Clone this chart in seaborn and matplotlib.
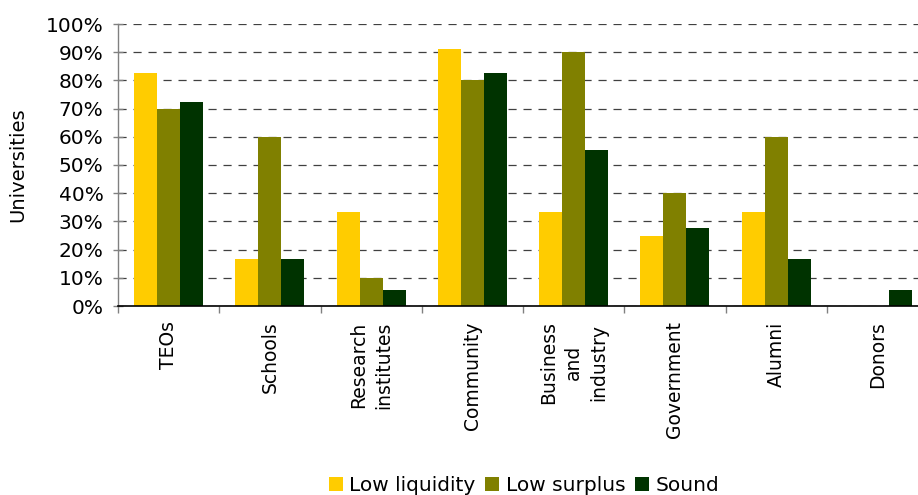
import numpy as np
import pandas as pd
import matplotlib
matplotlib.use("Agg")
import matplotlib.pyplot as plt
from matplotlib.ticker import PercentFormatter, FixedLocator
import seaborn as sns

# Share of universities engaging with each stakeholder group, by financial status
categories = ["TEOs", "Schools", "Research\ninstitutes", "Community",
              "Business\nand\nindustry", "Government", "Alumni", "Donors"]
series = ["Low liquidity", "Low surplus", "Sound"]
low_liquidity = [0.826, 0.167, 0.333, 0.911, 0.333, 0.250, 0.333, 0.0]
low_surplus = [0.70, 0.60, 0.10, 0.80, 0.90, 0.40, 0.60, 0.0]
sound = [0.723, 0.167, 0.056, 0.826, 0.553, 0.277, 0.167, 0.056]
colors = ["#FFCC00", "#808000", "#003300"]
y_ticks = np.arange(0, 1.01, 0.1)

df = pd.DataFrame({
    "category": categories * 3,
    "series": [s for s in series for _ in categories],
    "value": low_liquidity + low_surplus + sound,
})

sns.set_style("white")
plt.rcParams["font.family"] = ["DejaVu Sans"]
plt.rcParams["font.size"] = 13
plt.rcParams["text.color"] = "black"
plt.rcParams["axes.labelcolor"] = "black"
plt.rcParams["xtick.labelcolor"] = "black"
plt.rcParams["ytick.labelcolor"] = "black"

fig = plt.figure(figsize=(9.18, 4.95), dpi=100)
ax = fig.add_axes([118 / 918, 1 - 306 / 495, 810 / 918, 282 / 495])

sns.barplot(data=df, x="category", y="value", hue="series", order=categories,
            hue_order=series, palette=colors, width=0.68, gap=0,
            saturation=1, linewidth=0, ax=ax, legend=True)

ax.set_xlim(-0.5, len(categories) - 0.5)
ax.set_ylim(0, 1.0)
ax.set_axisbelow(True)

# y axis
ax.set_yticks(y_ticks)
ax.yaxis.set_major_formatter(PercentFormatter(xmax=1, decimals=0))
ax.tick_params(axis="y", direction="inout", length=7, width=1, color="#808080",
               pad=7, labelsize=14.5, left=True)
ax.yaxis.grid(True, color="#404040", linewidth=0.9, linestyle=(0, (6.5, 5.5)))
ax.xaxis.grid(False)
ax.set_ylabel("Universities", fontsize=14, labelpad=13)

# x axis: labels at centres, tick marks at category boundaries
ax.set_xlabel("")
ax.tick_params(axis="x", which="major", length=0, pad=11, labelsize=13.5)
ax.set_xticks(range(len(categories)))
ax.set_xticklabels(categories, rotation=90, ha="center", va="top",
                   multialignment="center", linespacing=1.4)
ax.xaxis.set_minor_locator(FixedLocator(np.arange(-0.5, len(categories), 1)))
ax.tick_params(axis="x", which="minor", direction="out", length=5, width=1,
               color="#808080", bottom=True)

for side in ["top", "right"]:
    ax.spines[side].set_visible(False)
ax.spines["left"].set_color("#808080")
ax.spines["left"].set_linewidth(1)
ax.spines["bottom"].set_color("#000000")
ax.spines["bottom"].set_linewidth(1.2)

handles, labels = ax.get_legend_handles_labels()
ax.get_legend().remove()
fig.legend(handles, labels, loc="lower center", bbox_to_anchor=(524 / 918, 0.0),
           ncol=3, frameon=False, fontsize=14.5, handlelength=0.7,
           handleheight=0.7, handletextpad=0.3, columnspacing=0.5,
           borderpad=0, borderaxespad=0)

fig.savefig("out.png", dpi=100)
